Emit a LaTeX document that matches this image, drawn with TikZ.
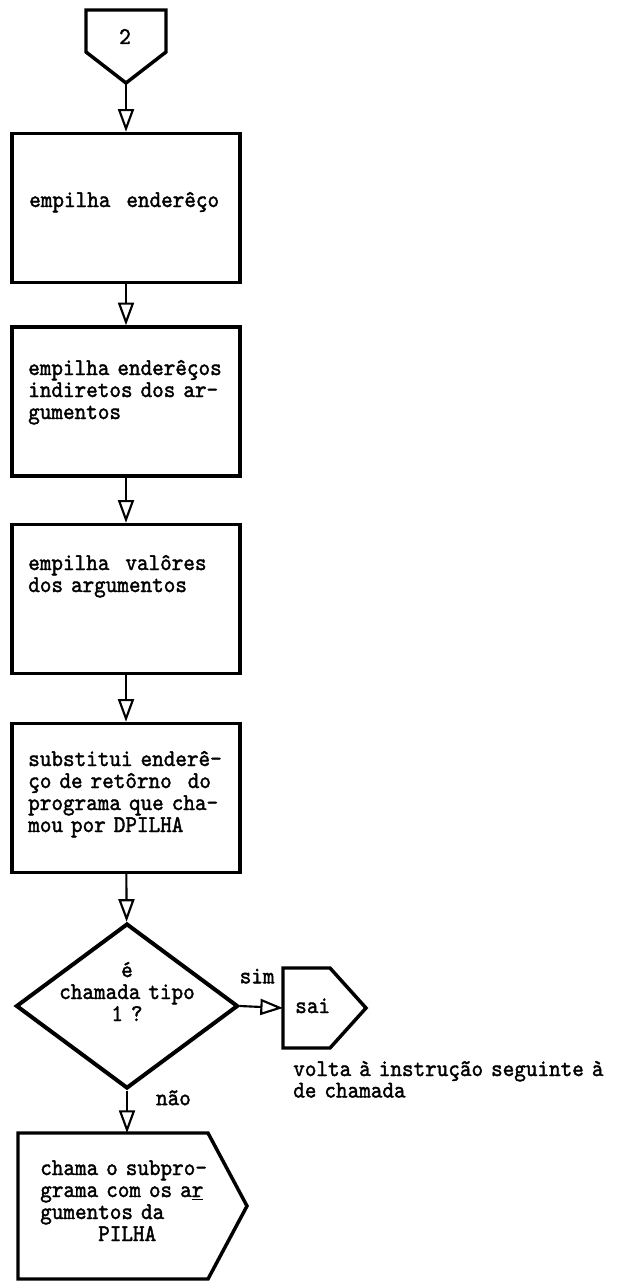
\documentclass[tikz,border=0pt]{standalone}
\usepackage{fontspec}
\newfontfamily\typewriter{lmmono10-regular.otf}[FakeStretch=0.92, FakeBold=1.6]
\usetikzlibrary{arrows.meta, shapes.geometric}

\begin{document}
\begin{tikzpicture}[x=0.75pt, y=-0.75pt,
    lbl/.style={anchor=base west, inner sep=0pt,
                font=\typewriter\fontsize{18}{16.5}\selectfont},
    txt/.style={lbl, align=left, text width=170pt}]
\useasboundingbox (0,0) rectangle (622,1281);

\begin{scope}[
    every node/.style={inner sep=0pt},
    box/.style={shape=rectangle, draw=black, line width=2.6pt,
                minimum width=171pt, minimum height=111.75pt}]
    % connector 2
    \draw [line width=2.6pt, line join=miter] (86,10) -- (166,10) -- (166,52) -- (126,83) -- (86,52) -- cycle;
    \coordinate (0) at (126,83);
    \node (t0) at (125,44) [lbl, anchor=base] {2};

    \node (1) at (126,208) [box] {};
    \node (t1) at (29,207) [txt] {empilha\ \ enderêço};

    \node (2) at (126,401.5) [box] {};
    \node (t2) at (28,375) [txt] {empilha enderêços\\indiretos dos ar-\\gumentos};

    \node (3) at (126,599) [box] {};
    \node (t3) at (28,570) [txt] {empilha\ \ valôres\\dos argumentos};

    \node (4) at (126,798) [box] {};
    \node (t4) at (28,766) [txt] {substitui enderê-\\ço de retôrno\ \ do\\programa que cha-\\mou por DPILHA};

    % test
    \node (5) at (127,1006) [shape=diamond, draw=black, line width=3pt,
        minimum width=166.5pt, minimum height=123.75pt] {};
    \node (t5) at (127,977) [txt, anchor=base, align=center] {é\\chamada tipo\\1 ?};

    % sai
    \draw [line width=2.6pt, line join=miter] (283,968) -- (330,968) -- (366,1008) -- (330,1048) -- (283,1048) -- cycle;
    \coordinate (6) at (283,1008);
    \node (t6) at (295,1013) [lbl] {sai};
    \node (t8) at (293,1076) [txt, text width=260pt,
        font=\typewriter\fontsize{18}{12.75}\selectfont] {volta à instrução seguinte à\\de chamada};

    % chama o subprograma
    \draw [line width=2.6pt, line join=miter] (18,1133) -- (208,1133) -- (247,1206) -- (208,1279) -- (18,1279) -- cycle;
    \coordinate (7) at (127,1133);
    \node (t7) at (40,1175) [txt] {chama o subpro-\\grama com os a\underline{r}\\gumentos da\\\phantom{00000}PILHA};
\end{scope}

\begin{scope}[>={Triangle[open, length=17pt, width=12pt]},
              every edge/.style={draw=black, line width=1.6pt}]
    \path [->] (0) edge (1);
    \path [->] (1) edge (2);
    \path [->] (2) edge (3);
    \path [->] (3) edge (4);
    \path [->] (4) edge (5);
    \path [->] (5.east) edge node[lbl, pos=0, xshift=-1pt, yshift=17pt] {sim} (6);
    \path [->] (5.south) edge node[lbl, pos=0, xshift=21pt, yshift=-11pt] {não} (7);
\end{scope}
\end{tikzpicture}
\end{document}
